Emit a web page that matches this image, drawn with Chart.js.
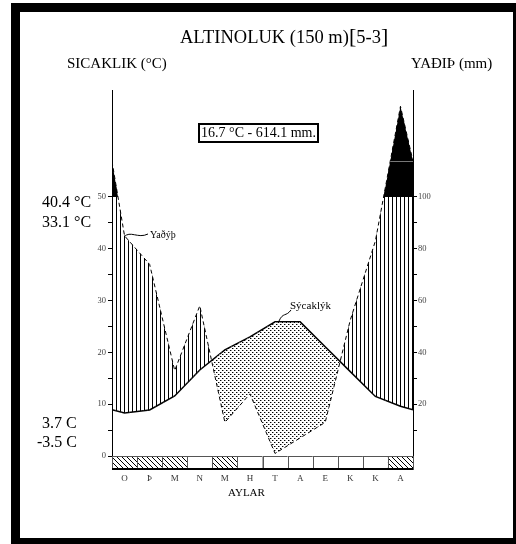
<!DOCTYPE html>
<html lang="tr">
<head>
<meta charset="UTF-8">
<title>Altınoluk iklim diyagramı</title>
<script src="https://cdn.jsdelivr.net/npm/chart.js@4"></script>
<style>
  html, body { margin: 0; padding: 0; background: #fff; overflow: hidden; }
  body {
    width: 516px; height: 544px; position: relative;
    font-family: 'Liberation Serif', 'Times New Roman', serif; color: #000;
  }
  #chart { position: absolute; left: 0; top: 0; }
  .frame {
    position: absolute; left: 11px; top: 3px; width: 493px; height: 526px;
    border: 9px solid #000; pointer-events: none;
  }
  .txt { position: absolute; white-space: nowrap; line-height: 1; }
  .box {
    position: absolute; left: 198px; top: 123px; width: 115px; height: 16px;
    border: 2px solid #000; font-size: 14px; line-height: 16px; text-align: center; padding: 0 1px;
  }
</style>
</head>
<body>

<canvas id="chart" width="516" height="544"></canvas>

<!-- başlık ve eksen yazıları -->
<div class="txt" style="left:180px; top:25px; font-size:18.5px;">ALTINOLUK (150 m)<span style="font-size:22px;">[</span>5-3<span style="font-size:22px;">]</span></div>
<div class="txt" style="left:67px; top:56px; font-size:15px;">SICAKLIK (°C)</div>
<div class="txt" style="left:411px; top:56px; font-size:15px;">YAÐIÞ (mm)</div>

<div class="box">16.7 °C - 614.1 mm.</div>

<div class="txt" style="left:42px; top:194px; font-size:16px;">40.4 °C</div>
<div class="txt" style="left:42px; top:214px; font-size:16px;">33.1 °C</div>
<div class="txt" style="left:42px; top:415px; font-size:16px;">3.7 C</div>
<div class="txt" style="left:37px; top:434px; font-size:16px;">-3.5 C</div>

<div class="txt" style="left:150px; top:230px; font-size:10px;">Yaðýþ</div>
<div class="txt" style="left:290px; top:300px; font-size:11px;">Sýcaklýk</div>

<div class="txt" style="left:228px; top:487px; font-size:11px;">AYLAR</div>

<div class="frame"></div>

<script>
// aylar (ilk harfler)
const months = ['O', 'Þ', 'M', 'N', 'M', 'H', 'T', 'A', 'E', 'K', 'K', 'A'];
// aylık ortalama sıcaklık (°C)
const temps = [8.3, 8.9, 11.6, 16.6, 20.5, 23.0, 25.9, 25.9, 21.1, 16.3, 11.5, 9.6];
// aylık yağış (mm)
const rain = [85, 74, 33, 58, 13, 24, 1, 7, 13, 52.5, 83, 170];
// alt şeritte taralı aylar
const frostMonths = [1, 1, 1, 0, 1, 0, 0, 0, 0, 0, 0, 1];
// eksen etiketleri
const tempTicks = [0, 10, 20, 30, 40, 50];
const rainTicks = [20, 40, 60, 80, 100];

// yağış -> sıcaklık birimi (20 mm = 10 °C, 100 mm üstü küçültülmüş)
function rainToScale(mm) {
  return mm <= 100 ? mm / 2 : 50 + (mm - 100) * 0.25;
}

// ay ortalarında noktalar, kenarlarda Aralık-Ocak ortalaması
function withEdges(arr) {
  const e = (arr[0] + arr[11]) / 2;
  const pts = [{ x: 0, y: e }];
  arr.forEach((v, i) => pts.push({ x: i + 0.5, y: v }));
  pts.push({ x: 12, y: e });
  return pts;
}

const tempPts = withEdges(temps);
const rainPts = withEdges(rain).map(p => ({ x: p.x, y: rainToScale(p.y) }));

// desenler
function makePattern(w, h, draw) {
  const c = document.createElement('canvas');
  c.width = w; c.height = h;
  const g = c.getContext('2d');
  draw(g);
  return document.getElementById('chart').getContext('2d').createPattern(c, 'repeat');
}
const hatch = makePattern(4, 4, g => { g.fillStyle = '#000'; g.fillRect(0, 0, 1, 4); });
const dots = makePattern(4, 4, g => {
  g.fillStyle = '#000';
  g.fillRect(0, 0, 1, 1);
  g.fillRect(2, 2, 1, 1);
  g.fillStyle = '#999';
  g.fillRect(1, 0, 1, 1);
  g.fillRect(3, 2, 1, 1);
});
const diag = makePattern(5, 5, g => {
  g.strokeStyle = '#000'; g.lineWidth = 1;
  g.beginPath(); g.moveTo(-1, -1); g.lineTo(6, 6); g.stroke();
  g.beginPath(); g.moveTo(-1, 4); g.lineTo(1, 6); g.stroke();
  g.beginPath(); g.moveTo(4, -1); g.lineTo(6, 1); g.stroke();
});

// alt şerit, kara bölge çizgisi ve açıklama çizgileri
const extras = {
  id: 'extras',
  afterDraw(chart) {
    const { ctx, scales: { x, y } } = chart;
    const top = y.getPixelForValue(0);
    const bottom = y.getPixelForValue(-2.5);
    ctx.save();
    months.forEach((m, i) => {
      const x0 = x.getPixelForValue(i);
      const x1 = x.getPixelForValue(i + 1);
      ctx.fillStyle = frostMonths[i] ? diag : '#fff';
      ctx.fillRect(x0, top, x1 - x0, bottom - top);
      ctx.strokeStyle = '#555';
      ctx.lineWidth = 1;
      ctx.strokeRect(Math.round(x0) + 0.5, Math.round(top) + 0.5, Math.round(x1 - x0), Math.round(bottom - top));
    });
    ctx.strokeStyle = '#000';
    ctx.lineWidth = 2;
    ctx.beginPath();
    ctx.moveTo(x.left, bottom);
    ctx.lineTo(x.right, bottom);
    ctx.stroke();

    // kara bölgede kenar değeri çizgisi (Kasım-Aralık arası kesişimden sağ eksene)
    const edge = rainPts[13].y;
    const nov = rainPts[11], dec = rainPts[12];
    const t = (edge - nov.y) / (dec.y - nov.y);
    const xe = nov.x + t * (dec.x - nov.x);
    const ye = Math.round(y.getPixelForValue(edge)) + 0.5;
    ctx.strokeStyle = '#777';
    ctx.lineWidth = 1;
    ctx.beginPath();
    ctx.moveTo(x.getPixelForValue(xe), ye);
    ctx.lineTo(x.right, ye);
    ctx.stroke();

    // açıklama çizgileri
    ctx.strokeStyle = '#000';
    ctx.beginPath();
    ctx.moveTo(124, 237);
    ctx.bezierCurveTo(130, 230, 138, 239, 148, 234);
    ctx.stroke();
    ctx.beginPath();
    ctx.moveTo(279, 321);
    ctx.bezierCurveTo(283, 312, 286, 317, 291, 310);
    ctx.stroke();
    ctx.restore();
  }
};

const tickFont = { family: 'Liberation Serif', size: 8.5 };

new Chart(document.getElementById('chart'), {
  type: 'line',
  data: {
    datasets: [
      {
        data: rainPts,
        borderWidth: 0,
        borderColor: 'rgba(0,0,0,0)',
        pointRadius: 0,
        fill: { target: { value: 50 }, above: '#000', below: 'rgba(0,0,0,0)' }
      },
      {
        data: rainPts,
        borderColor: '#000',
        borderWidth: 1,
        borderDash: [4, 3],
        pointRadius: 0,
        fill: { target: 2, above: hatch, below: dots }
      },
      {
        data: tempPts,
        borderColor: '#000',
        borderWidth: 1.5,
        pointRadius: 0,
        fill: false
      }
    ]
  },
  options: {
    responsive: false,
    devicePixelRatio: 1,
    animation: false,
    layout: { padding: { top: 90, bottom: 75 } },
    elements: { line: { tension: 0 } },
    plugins: { legend: { display: false }, tooltip: { enabled: false } },
    scales: {
      x: { type: 'linear', min: 0, max: 12, display: false },
      y: {
        position: 'left',
        min: -2.5,
        max: 70.65,
        afterFit: s => { s.width = 112; },
        afterBuildTicks: s => {
          const t = [];
          for (let v = 0; v <= 50; v += 5) t.push({ value: v });
          s.ticks = t;
        },
        ticks: {
          font: tickFont,
          color: '#444',
          padding: 2,
          callback: v => tempTicks.includes(v) ? v : ''
        },
        grid: { drawOnChartArea: false, tickLength: 4, color: '#000' },
        border: { color: '#000', width: 1 }
      },
      y2: {
        position: 'right',
        min: -2.5,
        max: 70.65,
        afterFit: s => { s.width = 103; },
        afterBuildTicks: s => {
          const t = [];
          for (let v = 5; v <= 50; v += 5) t.push({ value: v });
          s.ticks = t;
        },
        ticks: {
          font: tickFont,
          color: '#444',
          padding: 1,
          callback: v => rainTicks.includes(v * 2) ? v * 2 : ''
        },
        grid: { drawOnChartArea: false, tickLength: 4, color: '#000' },
        border: { color: '#000', width: 1 }
      }
    }
  },
  plugins: [extras]
});

// ay harfleri
const xLeft = 112, cell = (413 - 112) / 12;
months.forEach((m, i) => {
  const d = document.createElement('div');
  d.className = 'txt';
  d.style.fontSize = '9px';
  d.style.color = '#333';
  d.style.top = '474px';
  d.style.width = '20px';
  d.style.textAlign = 'center';
  d.style.left = (xLeft + cell * (i + 0.5) - 10) + 'px';
  d.textContent = m;
  document.body.appendChild(d);
});
</script>
</body>
</html>
